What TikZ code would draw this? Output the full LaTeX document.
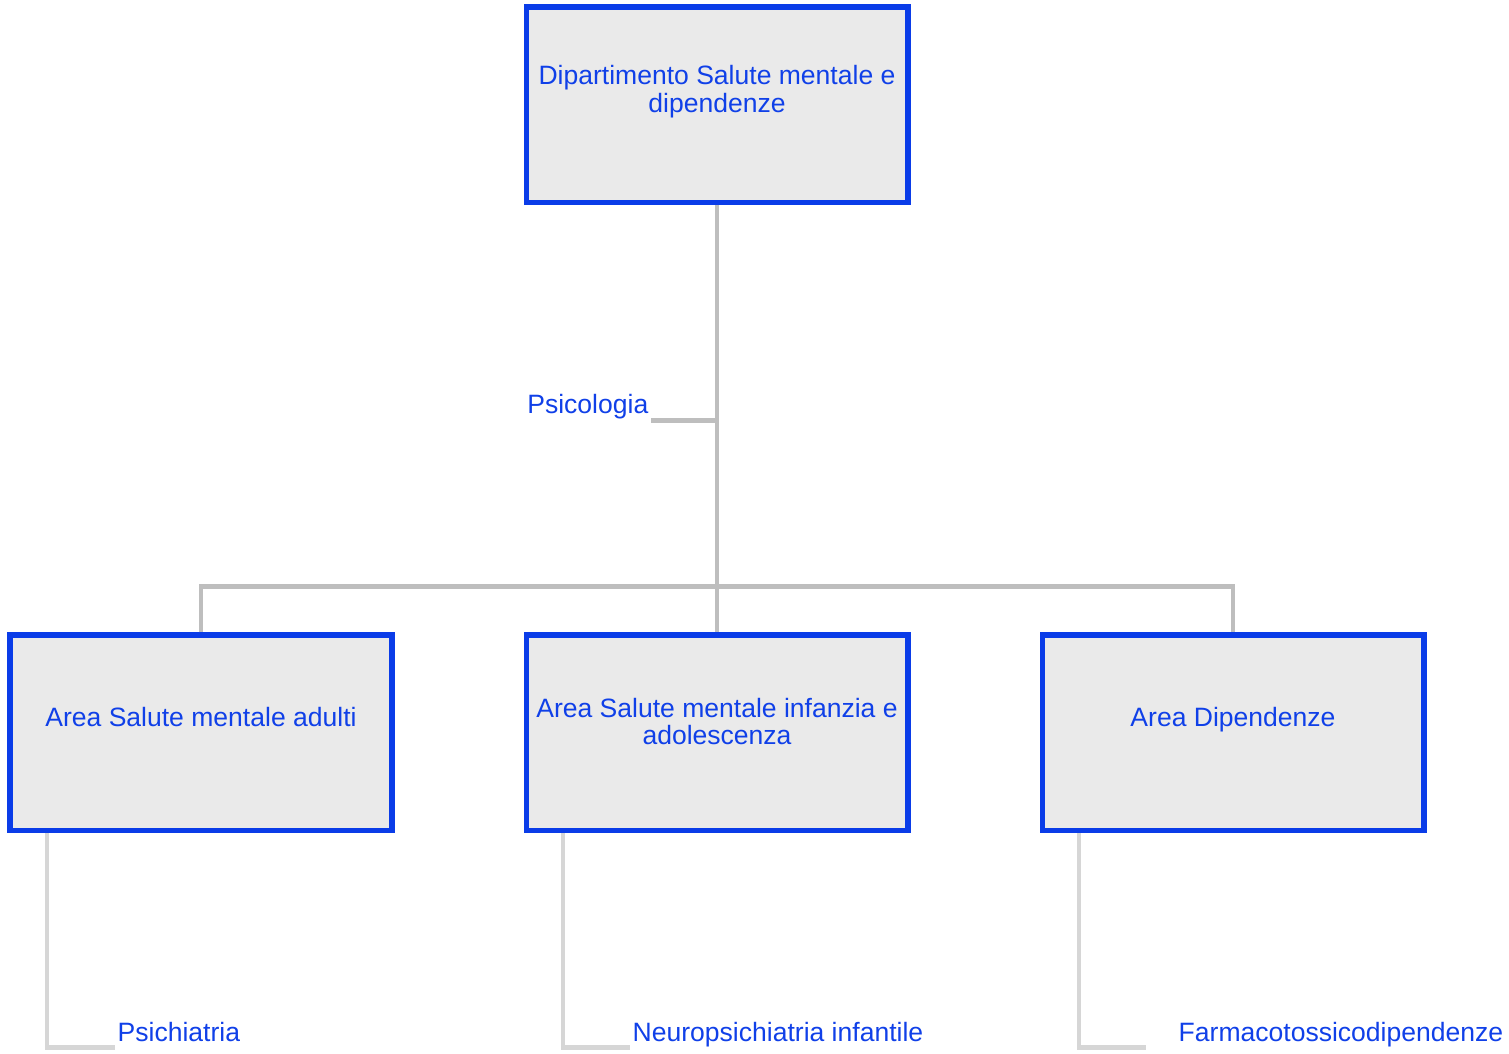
\documentclass[tikz,border=0pt]{standalone}
\usepackage{fontspec}
\setmainfont{Liberation Sans}
\usetikzlibrary{positioning,calc}

\definecolor{unitblue}{RGB}{10,60,232}
\definecolor{labelblue}{RGB}{16,64,232}
\definecolor{unitfill}{RGB}{234,234,234}
\definecolor{trunkgray}{RGB}{190,190,190}
\definecolor{twiggray}{RGB}{214,214,214}

\tikzset{
	unit/.style={draw=unitblue, line width=0.055cm, fill=unitfill, minimum width=3.815cm, minimum height=1.955cm, inner sep=0pt},
	unittext/.style={text=labelblue, font=\fontsize{7.55pt}{7.9pt}\selectfont, align=center, inner sep=0pt},
	leaf/.style={text=labelblue, font=\fontsize{7.55pt}{7.9pt}\selectfont, inner xsep=0.02cm, inner ysep=0pt, text depth=0.06cm},
	trunk/.style={draw=trunkgray, line width=0.045cm},
	twig/.style={draw=twiggray, line width=0.045cm}
}

\begin{document}
\begin{tikzpicture}
	% canvas
	\useasboundingbox (0, 0) rectangle (15.09, 10.53);
	
	\def\rowtop{9.48}
	\def\rowbot{3.20}
	
	% units
	\node[unit] (dip) at (7.17, \rowtop) {};
	\node[unit] (adulti) at (2.01, \rowbot) {};
	\node[unit] (infanzia) at (7.17, \rowbot) {};
	\node[unit] (dipend) at (12.33, \rowbot) {};
	
	% unit texts
	\node[unittext] (dip-t) at ($(dip.north)+(0,-0.87)$) {Dipartimento Salute mentale e\\dipendenze};
	\node[unittext, anchor=base] (adulti-t) at ($(adulti.north)+(0,-0.94)$) {Area Salute mentale adulti};
	\node[unittext] (infanzia-t) at ($(infanzia.north)+(0,-0.89)$) {Area Salute mentale infanzia e\\adolescenza};
	\node[unittext, anchor=base] (dipend-t) at ($(dipend.north)+(0,-0.94)$) {Area Dipendenze};
	
	% leaves
	\node[leaf, anchor=base east] (psico) at (6.51, 6.39) {Psicologia};
	\node[leaf, anchor=base west] (psich) at (1.15, 0.12) {Psichiatria};
	\node[leaf, anchor=base west] (neuro) at (6.30, 0.12) {Neuropsichiatria infantile};
	\node[leaf, anchor=base west] (farma) at (11.76, 0.12) {Farmacotossicodipendenze};
	\coordinate (farma-end) at ($(farma.south west)+(-0.30, 0)$);
	
	% connectors
	\begin{scope}[on background layer/.try]
	\draw[trunk] (dip.south) -- (infanzia.north);
	\draw[trunk] (adulti.north) -- ++(0, 0.46) -| (dipend.north);
	\draw[trunk] (psico.south east) -- (psico.south east -| dip.south);
	\draw[twig] ($(adulti.south)+(-1.54, 0)$) |- (psich.south west);
	\draw[twig] ($(infanzia.south)+(-1.54, 0)$) |- (neuro.south west);
	\draw[twig] ($(dipend.south)+(-1.54, 0)$) |- (farma-end);
	\end{scope}
\end{tikzpicture}
\end{document}
